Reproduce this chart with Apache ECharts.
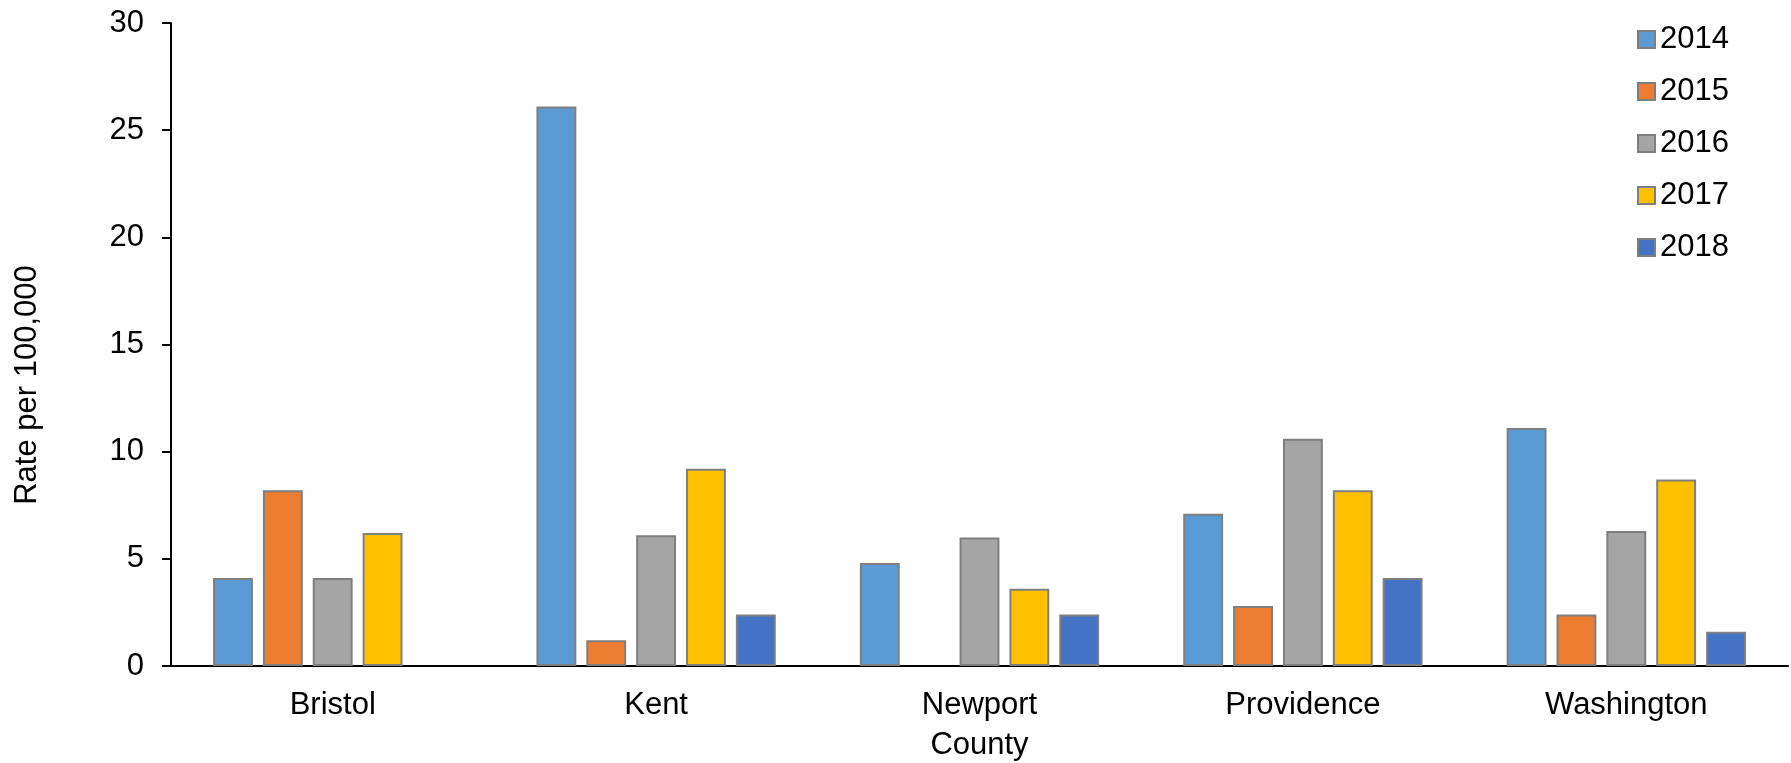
<!DOCTYPE html>
<html>
<head>
    <meta charset="utf-8">
    <style>
        html, body { margin: 0; padding: 0; background: #fff; }
        #chart { width: 1791px; height: 763px; }
    </style>
    <script src="https://cdn.jsdelivr.net/npm/echarts@6/dist/echarts.min.js"></script>
</head>
<body>
<div id="chart"></div>
<script type="text/javascript">
    var counties = ['Bristol', 'Kent', 'Newport', 'Providence', 'Washington'];
    var years = ['2014', '2015', '2016', '2017', '2018'];
    var yTicks = [0, 5, 10, 15, 20, 25, 30];
    // rate per 100,000, one list per year (null = no bar)
    var rate2014 = [4.1, 26.1, 4.8, 7.1, 11.1];
    var rate2015 = [8.2, 1.2, null, 2.8, 2.4];
    var rate2016 = [4.1, 6.1, 6.0, 10.6, 6.3];
    var rate2017 = [6.2, 9.2, 3.6, 8.2, 8.7];
    var rate2018 = [null, 2.4, 2.4, 4.1, 1.6];

    var yearData = [rate2014, rate2015, rate2016, rate2017, rate2018];
    var colors = ['#5B9BD5', '#ED7D31', '#A5A5A5', '#FFC000', '#4472C4'];
    var font = 'Liberation Sans, Arial, sans-serif';

    var series = [];
    for (var i = 0; i < years.length; i++) {
        series.push({
            name: years[i],
            type: 'bar',
            data: yearData[i],
            barGap: '25%',
            barCategoryGap: '26%',
            itemStyle: {
                color: colors[i],
                borderColor: '#7F7F7F',
                borderWidth: 2
            }
        });
    }

    var chart = echarts.init(document.getElementById('chart'));
    chart.setOption({
        animation: false,
        textStyle: { fontFamily: font },
        grid: { left: 171, right: 3, top: 23, bottom: 97, outerBoundsMode: 'none' },
        legend: {
            orient: 'vertical',
            left: 1632,
            top: 19,
            icon: 'rect',
            itemWidth: 17,
            itemHeight: 17,
            itemGap: 21,
            data: years,
            itemStyle: { borderColor: '#7F7F7F', borderWidth: 2 },
            textStyle: { fontSize: 31, color: '#000', fontFamily: font, lineHeight: 30 }
        },
        graphic: [{
            type: 'text',
            x: 27,
            y: 385,
            rotation: Math.PI / 2,
            style: {
                text: 'Rate per 100,000',
                font: '31px ' + font,
                fill: '#000',
                textAlign: 'center',
                textVerticalAlign: 'middle'
            }
        }],
        xAxis: {
            type: 'category',
            data: counties,
            name: 'County',
            nameLocation: 'middle',
            nameGap: 64,
            nameTextStyle: { fontSize: 31, color: '#000', fontFamily: font },
            axisLine: { lineStyle: { color: '#000', width: 2 } },
            axisTick: { show: false },
            axisLabel: { fontSize: 31, color: '#000', margin: 24, fontFamily: font }
        },
        yAxis: {
            type: 'value',
            min: 0,
            max: yTicks[yTicks.length - 1],
            interval: 5,
            splitLine: { show: false },
            axisLine: { show: true, lineStyle: { color: '#000', width: 2 } },
            axisTick: { show: true, length: 9, lineStyle: { color: '#000', width: 2 } },
            axisLabel: { fontSize: 31, color: '#000', margin: 27, fontFamily: font }
        },
        series: series
    });
</script>
</body>
</html>
